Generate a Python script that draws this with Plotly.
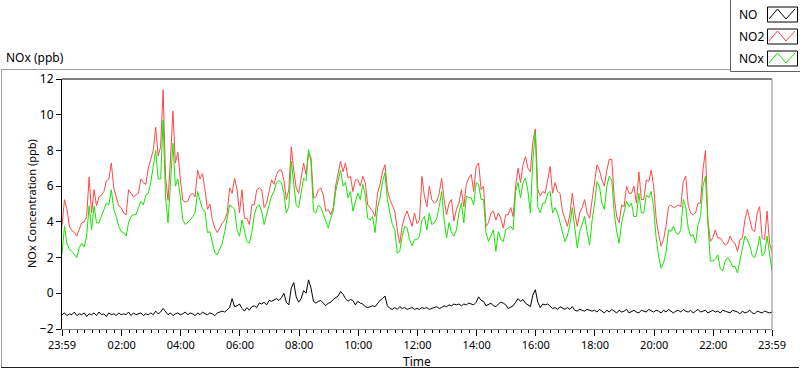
import pandas as pd
import plotly.graph_objects as go

# ---------------- data (5-minute readings, 23:59 -> 23:59) ----------------
no2_ppb = [
    3.8, 5.24, 4.7, 3.75, 3.5, 3.4, 3.2, 3.55, 3.95, 4.0, 4.3, 6.5,
    4.5, 5.8, 4.9, 5.4, 5.5, 5.7, 6.3, 6.4, 7.3, 5.9, 5.4, 4.9,
    4.8, 4.5, 4.4, 5.8, 5.6, 5.4, 5.5, 5.6, 6.4, 6.2, 6.1, 7.0,
    7.5, 8.0, 9.3, 7.7, 8.2, 11.4, 6.5, 5.2, 7.5, 10.2, 7.3, 7.9,
    6.4, 5.2, 5.1, 5.15, 5.5, 5.6, 5.4, 6.9, 6.4, 6.7, 5.8, 4.7,
    5.0, 4.1, 3.65, 3.4, 3.65, 3.95, 4.1, 4.5, 5.9, 5.6, 6.45, 5.8,
    4.5, 5.8, 4.2, 4.2, 3.85, 4.95, 4.95, 5.8, 5.9, 5.8, 4.8, 5.05,
    5.7, 6.35, 6.1, 6.65, 6.9, 6.9, 6.35, 5.25, 5.8, 8.2, 6.9, 5.9,
    5.6, 6.35, 7.3, 6.65, 7.85, 7.6, 5.35, 5.4, 5.8, 5.9, 5.5, 4.6,
    4.7, 4.4, 4.8, 6.0, 6.8, 7.4, 6.8, 7.3, 6.45, 6.55, 5.7, 6.35,
    6.35, 6.0, 6.55, 6.2, 4.95, 4.8, 4.6, 4.3, 5.6, 6.1, 6.8, 7.2,
    5.8, 5.25, 4.95, 4.6, 3.55, 2.8, 3.75, 4.3, 4.6, 4.1, 3.75, 4.5,
    3.9, 4.1, 6.55, 5.45, 4.85, 6.0, 5.25, 5.05, 5.15, 5.6, 6.45, 5.25,
    4.4, 5.05, 5.25, 4.05, 4.7, 5.05, 5.8, 4.85, 6.1, 6.45, 6.65, 5.7,
    7.1, 7.3, 5.8, 6.0, 3.75, 3.95, 4.5, 4.6, 4.1, 4.5, 4.2, 3.65,
    4.4, 4.4, 4.8, 4.3, 6.0, 7.0, 6.2, 7.2, 7.65, 7.0, 6.8, 8.5,
    9.2, 5.8, 5.45, 5.7, 5.6, 6.35, 7.1, 5.6, 6.2, 5.7, 5.6, 4.6,
    4.1, 3.75, 4.4, 5.6, 4.5, 3.75, 4.5, 4.8, 5.25, 4.5, 4.2, 5.15,
    6.2, 7.2, 6.9, 6.35, 6.0, 6.9, 7.5, 7.5, 5.35, 4.3, 3.95, 4.95,
    4.85, 6.0, 5.6, 5.6, 6.0, 5.05, 6.8, 5.25, 5.25, 6.35, 6.25, 6.9,
    6.0, 4.2, 3.3, 2.65, 3.0, 3.75, 4.85, 4.95, 4.8, 4.85, 4.95, 4.85,
    6.25, 6.55, 4.95, 4.5, 4.4, 4.5, 5.05, 5.05, 6.9, 8.0, 4.1, 2.9,
    3.1, 3.55, 3.1, 3.1, 2.9, 2.7, 2.8, 3.2, 2.9, 2.8, 2.35, 3.0,
    3.1, 4.1, 4.7, 4.1, 3.55, 3.45, 4.5, 4.85, 3.1, 3.0, 4.6, 2.8,
    2.35,
]

nox_ppb = [
    2.2, 3.75, 2.8, 2.45, 2.35, 2.15, 2.0, 2.55, 2.8, 2.6, 3.2, 4.9,
    3.55, 4.9, 3.95, 3.95, 4.3, 4.6, 5.05, 4.95, 5.8, 4.7, 4.3, 3.75,
    3.45, 3.4, 3.2, 3.95, 4.3, 4.4, 4.4, 4.8, 5.15, 4.95, 5.5, 5.6,
    6.2, 7.1, 8.0, 6.4, 6.4, 9.7, 5.4, 3.95, 6.2, 8.4, 6.0, 6.4,
    5.4, 4.1, 3.85, 3.95, 4.1, 4.3, 4.5, 5.7, 5.25, 4.7, 4.6, 3.4,
    3.45, 2.8, 2.25, 2.15, 2.45, 2.8, 3.45, 4.3, 4.95, 4.85, 4.7, 3.55,
    3.2, 4.1, 3.4, 2.9, 2.8, 3.4, 4.4, 4.85, 4.95, 4.6, 3.85, 4.5,
    4.95, 5.45, 5.7, 6.2, 6.3, 6.2, 5.6, 4.5, 4.85, 7.4, 6.1, 4.95,
    4.8, 5.7, 6.45, 6.3, 8.05, 7.4, 4.6, 4.5, 4.95, 4.8, 4.4, 3.95,
    3.65, 4.2, 4.6, 5.7, 6.25, 6.9, 6.0, 6.2, 5.35, 5.7, 4.6, 5.05,
    5.6, 5.25, 6.1, 5.5, 4.2, 4.1, 4.3, 3.4, 4.8, 5.35, 6.25, 6.75,
    5.25, 4.5, 3.85, 3.55, 2.25, 2.35, 3.2, 3.75, 3.65, 3.0, 2.65, 3.0,
    3.0, 3.2, 4.1, 4.3, 3.55, 4.5, 3.85, 3.95, 4.2, 4.85, 5.7, 4.1,
    3.1, 3.95, 3.4, 3.2, 3.55, 4.5, 5.05, 3.95, 5.45, 5.35, 5.35, 4.95,
    6.2, 6.1, 5.25, 5.25, 3.4, 2.9, 3.2, 3.55, 2.35, 3.45, 3.0, 2.9,
    3.55, 3.65, 3.75, 3.55, 5.7, 6.2, 5.35, 6.2, 6.45, 5.7, 4.5, 7.5,
    9.0, 4.85, 4.5, 5.05, 5.05, 5.6, 5.7, 4.5, 4.8, 4.5, 3.95, 3.4,
    2.9, 3.2, 3.85, 4.8, 3.75, 2.55, 3.45, 3.95, 4.3, 3.45, 2.7, 4.05,
    5.0, 6.25, 6.0, 5.05, 4.7, 6.0, 6.55, 6.35, 4.5, 3.45, 2.8, 3.95,
    4.5, 5.15, 4.85, 5.05, 4.3, 4.3, 5.6, 4.5, 4.5, 5.5, 5.35, 5.7,
    4.8, 3.1, 2.1, 1.4, 1.7, 2.25, 3.55, 3.45, 3.75, 3.4, 3.3, 3.55,
    5.25, 4.85, 3.65, 3.2, 3.3, 2.8, 3.85, 4.3, 6.0, 6.55, 3.95, 1.8,
    1.8, 1.9, 2.15, 1.4, 1.25, 1.8, 2.0, 1.8, 1.5, 1.5, 1.15, 1.8,
    2.45, 3.2, 3.0, 2.65, 2.1, 2.0, 2.45, 3.2, 2.1, 2.25, 3.2, 2.1,
    1.25,
]

no_ppb = [
    -1.2, -1.1, -1.25, -1.15, -1.2, -1.05, -1.25, -1.15, -1.2, -1.1, -1.3, -1.15,
    -1.2, -1.1, -1.25, -1.05, -1.2, -1.15, -1.3, -1.1, -1.2, -1.15, -1.25, -1.1,
    -1.2, -1.15, -1.2, -1.05, -1.25, -1.1, -1.2, -1.15, -1.1, -1.25, -1.15, -1.2,
    -1.1, -1.2, -1.0, -1.15, -1.05, -0.85, -1.0, -1.2, -1.1, -1.25, -1.15, -1.1,
    -1.2, -1.15, -1.05, -1.2, -1.1, -1.15, -1.25, -1.1, -1.2, -1.05, -1.15, -1.2,
    -1.1, -1.15, -1.25, -1.1, -1.05, -1.0, -1.05, -0.9, -0.8, -0.3, -0.75, -0.7,
    -0.6, -0.85, -1.0, -0.8, -0.95, -0.75, -0.7, -0.8, -0.55, -0.6, -0.5, -0.65,
    -0.4, -0.45, -0.35, -0.3, -0.4, -0.25, 0.0, -0.5, -0.65, 0.3, 0.6, -0.2,
    -0.5, -0.3, 0.15, 0.0, 0.75, 0.3, -0.45, -0.55, -0.45, -0.4, -0.55, -0.7,
    -0.55, -0.5, -0.35, -0.25, -0.15, 0.1, -0.05, -0.3, -0.45, -0.35, -0.4, -0.65,
    -0.45, -0.55, -0.6, -0.75, -0.8, -0.75, -0.7, -0.75, -0.55, -0.4, -0.3, -0.15,
    -0.7, -0.85, -0.9, -0.8, -0.9, -0.75, -0.85, -0.8, -0.9, -0.85, -0.8, -0.9,
    -0.85, -0.9, -0.8, -0.85, -0.8, -0.9, -0.85, -0.8, -0.75, -0.85, -0.8, -0.7,
    -0.75, -0.65, -0.7, -0.6, -0.65, -0.6, -0.7, -0.6, -0.65, -0.55, -0.6, -0.65,
    -0.5, -0.2, -0.4, -0.45, -0.7, -0.6, -0.55, -0.7, -0.75, -0.6, -0.5, -0.55,
    -0.65, -0.85, -0.75, -0.7, -0.5, -0.3, -0.45, -0.35, -0.55, -0.65, -0.75, -0.1,
    0.2, -0.5, -0.8, -0.6, -0.65, -0.6, -0.75, -0.85, -0.8, -0.9, -0.75, -0.85,
    -0.9, -0.8, -0.9, -0.75, -0.95, -1.0, -0.9, -0.95, -1.0, -0.9, -0.95, -1.0,
    -0.95, -1.05, -0.9, -1.0, -1.1, -0.95, -1.05, -0.9, -1.0, -1.1, -0.95, -1.05,
    -1.0, -0.9, -1.1, -1.0, -0.95, -1.05, -1.1, -0.95, -1.0, -1.05, -0.9, -1.0,
    -1.05, -0.95, -1.0, -1.1, -0.95, -1.05, -0.9, -1.0, -1.1, -1.0, -0.95, -1.05,
    -0.9, -1.0, -1.05, -0.95, -1.1, -1.0, -0.9, -1.05, -1.0, -0.95, -1.1, -1.0,
    -0.95, -1.05, -1.0, -1.1, -0.95, -1.0, -1.05, -1.1, -0.95, -1.0, -1.05, -1.15,
    -1.0, -1.1, -1.05, -0.95, -1.1, -1.15, -1.0, -1.05, -1.1, -1.0, -1.05, -1.1,
    -1.05,
]

start_time = "2024-01-01 23:59"
sample_step = "5min"
tick_times = ["2024-01-01 23:59", "2024-01-02 02:00", "2024-01-02 04:00",
              "2024-01-02 06:00", "2024-01-02 08:00", "2024-01-02 10:00",
              "2024-01-02 12:00", "2024-01-02 14:00", "2024-01-02 16:00",
              "2024-01-02 18:00", "2024-01-02 20:00", "2024-01-02 22:00",
              "2024-01-02 23:59"]
tick_labels = ["23:59", "02:00", "04:00", "06:00", "08:00", "10:00", "12:00",
               "14:00", "16:00", "18:00", "20:00", "22:00", "23:59"]
y_ticks = [-2, 0, 2, 4, 6, 8, 10, 12]
series_names = ["NO", "NO2", "NOx"]
series_colors = ["#000000", "#ff4848", "#14e600"]

# ---------------- figure ----------------
times = pd.date_range(start_time, periods=len(no2_ppb), freq=sample_step)

W, H = 800, 369
L, R, T, B = 62, 28, 79, 40
PW, PH = W - L - R, H - T - B


def px(x):
    return (x - L) / PW


def py(y):
    return (H - B - y) / PH


FONT = "Noto Sans"

fig = go.Figure()
for name, vals, col in zip(series_names, [no_ppb, no2_ppb, nox_ppb], series_colors):
    fig.add_trace(go.Scatter(x=times, y=vals, mode="lines", name=name,
                             line=dict(color=col, width=1)))

fig.update_layout(
    width=W, height=H,
    margin=dict(l=L, r=R, t=T, b=B),
    plot_bgcolor="white", paper_bgcolor="white",
    showlegend=False,
    font=dict(family=FONT, size=11, color="#000000"),
)
fig.update_xaxes(
    type="date", range=[tick_times[0], tick_times[-1]],
    showline=True, linecolor="#8a8a8a", linewidth=1,
    ticks="outside", ticklen=6, tickwidth=1, tickcolor="#000000",
    tickvals=tick_times, ticktext=tick_labels,
    tickfont=dict(size=11),
    minor=dict(ticks="outside", ticklen=3, tickwidth=1, tickcolor="#000000",
               dtick=15 * 60 * 1000, tick0="2024-01-02 00:00", showgrid=False),
    showgrid=False, zeroline=False, fixedrange=True,
)
fig.update_yaxes(
    range=[-2, 12], tickvals=y_ticks,
    showline=True, linecolor="#000000", linewidth=1,
    ticks="outside", ticklen=5, tickwidth=1, tickcolor="#000000",
    tickfont=dict(size=12),
    showgrid=False, zeroline=False,
)

shapes = []
# plot frame: top black, right gray
shapes.append(dict(type="line", xref="paper", yref="paper", x0=0, x1=1, y0=1, y1=1,
                   line=dict(color="#000000", width=1)))
shapes.append(dict(type="line", xref="paper", yref="paper", x0=1, x1=1, y0=0, y1=1,
                   line=dict(color="#8a8a8a", width=1)))
# outer panel frame
shapes.append(dict(type="line", xref="paper", yref="paper", x0=px(1), x1=px(799),
                   y0=py(69.5), y1=py(69.5), line=dict(color="#a0a0a0", width=1)))
shapes.append(dict(type="line", xref="paper", yref="paper", x0=px(1.5), x1=px(1.5),
                   y0=py(69.5), y1=py(367.5), line=dict(color="#a0a0a0", width=1)))
shapes.append(dict(type="line", xref="paper", yref="paper", x0=px(1), x1=px(799),
                   y0=py(367.5), y1=py(367.5), line=dict(color="#202020", width=1)))
# legend panel
shapes.append(dict(type="rect", xref="paper", yref="paper", x0=px(730.5), x1=px(801),
                   y0=py(-2), y1=py(71.5), fillcolor="white",
                   line=dict(color="#606060", width=1)))
row_tops = [7, 29, 51]
annotations = []
for name, col, top in zip(series_names, series_colors, row_tops):
    shapes.append(dict(type="rect", xref="paper", yref="paper",
                       x0=px(767.5), x1=px(797.5), y0=py(top), y1=py(top + 15),
                       fillcolor="white", line=dict(color="#000000", width=1)))
    pts = [(769, top + 12), (777.5, top + 2), (786, top + 12), (795, top + 2)]
    path = "M " + " L ".join(f"{px(a):.5f},{py(b):.5f}" for a, b in pts)
    shapes.append(dict(type="path", xref="paper", yref="paper", path=path,
                       line=dict(color=col, width=1)))
    annotations.append(dict(text=name, x=px(737), y=py(top + 7.5), xref="paper",
                            yref="paper", xanchor="left", yanchor="middle",
                            showarrow=False, font=dict(size=12, family=FONT)))

annotations.append(dict(text="NOx (ppb)", x=px(4), y=py(58), xref="paper", yref="paper",
                        xanchor="left", yanchor="middle", showarrow=False,
                        font=dict(size=12, family=FONT)))
annotations.append(dict(text="NOx Concentration (ppb)", x=px(31), y=0.5, xref="paper",
                        yref="paper", xanchor="center", yanchor="middle", textangle=-90,
                        showarrow=False, font=dict(size=11, family=FONT)))
annotations.append(dict(text="Time", x=0.5, y=py(361), xref="paper", yref="paper",
                        xanchor="center", yanchor="middle", showarrow=False,
                        font=dict(size=12, family=FONT)))

fig.update_layout(shapes=shapes, annotations=annotations)
fig.write_html("out.html",
               config={"displayModeBar": False, "staticPlot": True},
               post_script="document.body.style.margin='0px';"
                           "document.body.style.overflow='hidden';")
